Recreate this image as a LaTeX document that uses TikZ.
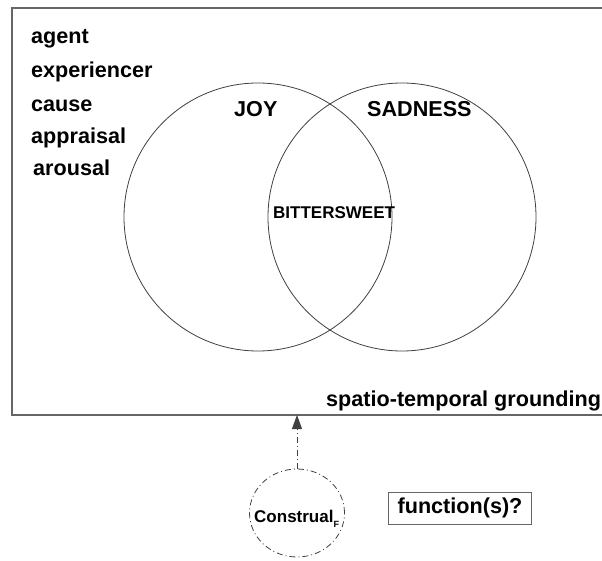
\documentclass[tikz,border=0pt]{standalone}
\usepackage{fontspec}
\setmainfont{Liberation Sans}
\usetikzlibrary{arrows.meta,shapes.geometric}
\begin{document}
\begin{tikzpicture}[x=1pt,y=-1pt,
  lbl/.style={anchor=base west,inner sep=0pt,font=\bfseries\fontsize{21.6}{25}\selectfont},
  small/.style={anchor=base west,inner sep=0pt,font=\bfseries\fontsize{17}{20}\selectfont},
  set/.style={draw=black!75,line width=0.8pt,circle,minimum size=268pt,inner sep=0pt},
  frameline/.style={draw=black!60,line width=1.1pt},
  dashdot/.style={draw=black!75,line width=0.8pt,dash pattern=on 6pt off 3pt on 1pt off 3pt}]
\useasboundingbox (0,0) rectangle (602,561);
% outer frame, open on the right
\draw[frameline] (602,8) -- (12,8) -- (12,415) -- (602,415);
\coordinate (framebottom) at (297,415);
% feature list
\node[lbl] (agent) at (31,44) {agent};
\node[lbl] (exp) at (31,78) {experiencer};
\node[lbl] (cause) at (31,112) {cause};
\node[lbl] (appr) at (31,144) {appraisal};
\node[lbl] (arou) at (33,176) {arousal};
% the two overlapping emotion sets
\node[set] (joy) at (258,217) {};
\node[set] (sad) at (402,217) {};
\node[lbl] (joylbl) at (234,117) {JOY};
\node[lbl] (sadlbl) at (367,117) {SADNESS};
\node[small] (bitter) at (273,219) {BITTERSWEET};
\node[lbl] (ground) at (326,406) {spatio-temporal grounding};
% construal and its link to the frame
\node[dashdot,ellipse,minimum width=95pt,minimum height=88pt,inner sep=0pt] (construal) at (297,513) {};
\node[anchor=base west,inner sep=0pt,font=\bfseries\fontsize{17}{20}\selectfont] (construallbl) at (254,522) {Construal\raisebox{-5pt}{\fontsize{9}{10}\selectfont F}};
\draw[dashdot,-{Triangle[length=14pt,width=10pt]}] (construal.north) -- (framebottom);
% function box
\node[draw=black!60,line width=1pt,minimum width=143pt,minimum height=32pt,inner sep=0pt,font=\bfseries\fontsize{21.6}{25}\selectfont] (func) at (460,508) {function(s)?};
\end{tikzpicture}
\end{document}
